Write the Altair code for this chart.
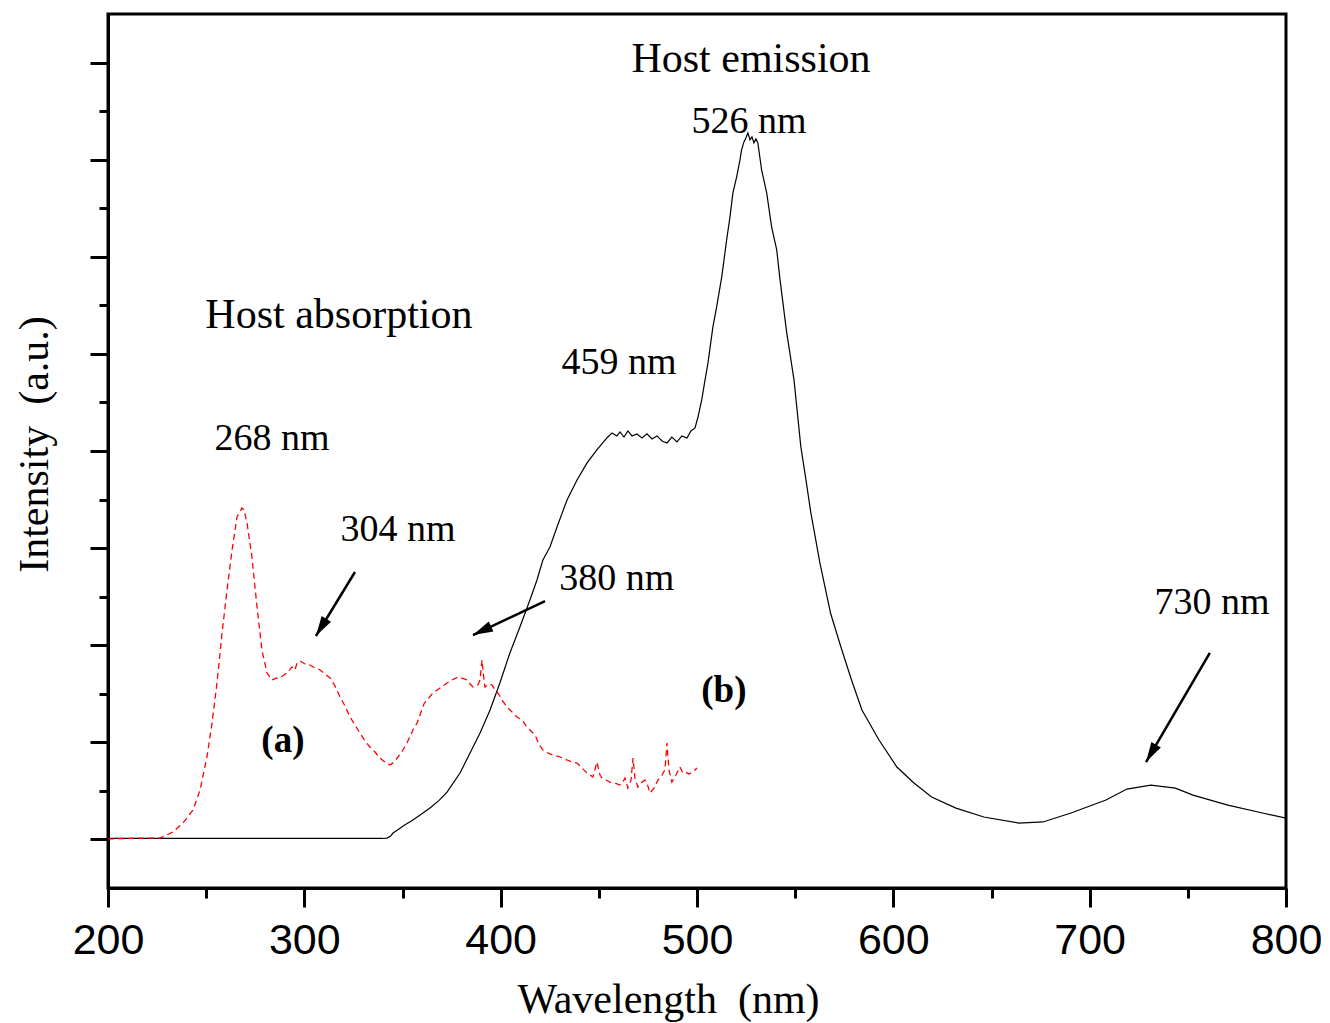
import math
import altair as alt
import pandas as pd

# ---------------- data ----------------
emis_wl = [200, 250, 300, 340,
           342.1, 343.8, 345.2, 348.0, 350.5, 355.3, 359.5, 364.0, 368.5, 372.7,
           379.3, 384.4, 389.5, 394.6, 399.6,
           404.7, 409.8, 414.9, 418.5, 421.5, 425.1, 428.7, 433.8, 438.9, 444.0,
           449.0, 454.1, 456.7, 459.2, 460.8, 462.8, 464.8, 466.9, 469.4, 472.0,
           474.5, 477.1, 479.6, 482.2, 484.7, 487.2, 489.8, 492.3, 494.9, 496.9,
           499.0, 500.5, 502.4, 504.1, 505.6, 508.1, 510.0, 512.6, 515.1, 516.8,
           518.3, 520.2, 521.9, 522.7, 523.9, 524.9, 525.9, 527.0, 528.0, 529.0,
           530.0, 531.0, 532.9, 535.5, 538.0, 540.6, 542.3, 545.7, 547.3, 549.4,
           552.9, 555.5, 558.0, 562.6, 568.0, 573.3, 578.7, 584.0, 592.7, 601.8,
           610.5, 619.5, 631.9, 646.1, 664.0, 676.2, 690.5, 708.3, 719.0, 731.2,
           743.7, 752.6, 770.4, 788.0, 800]
emis_int = [1, 1, 1, 1,
            1.4, 3.2, 6.6, 10.5, 14.0, 20, 26.0, 32.3, 40.0, 48.8,
            68.4, 89, 109.6, 133.3, 161.1,
            192, 218.8, 246.6, 267.2, 287.8, 301.2, 321.8, 349.6, 370.2, 387.7,
            401.1, 413.4, 418.6, 415.5, 419.6, 414.4, 420.7, 415.5, 417.6, 413.4,
            417.6, 412.4, 415.5, 410.3, 408.3, 414.4, 409.3, 415.5, 413.4, 420.7,
            423.7, 435, 452.6, 473.2, 490.7, 527.8, 548.4, 579.3, 617.4, 641.1,
            665.8, 682.3, 699.8, 710.1, 718.3, 722.4, 727.6, 720.4, 723.5, 717.3,
            721.4, 717.3, 689.5, 665.8, 630.8, 607.1, 576.2, 521.6, 501, 473.2,
            404.2, 370.2, 336.2, 284.7, 233.2, 198.2, 164.2, 133.3, 102.4, 74.6,
            58.1, 43.7, 32.3, 23.1, 16.9, 18, 27.2, 40.6, 51.9, 56,
            52.9, 45.7, 35.4, 27.2, 22]

abs_wl = [200, 216.3, 226.5, 233.1, 238.2, 243.3, 246.9, 250.4, 253.0, 255.5,
          258.1, 260.6, 263.2, 265.7, 267.2, 268.2, 269.3, 270.8, 273.3, 275.9,
          278.4, 281.0, 283.5, 285.6, 287.6, 289.6, 291.7, 293.7, 295.2, 296.3,
          297.8, 300.3, 302.9, 305.4, 308.0, 310.5, 313.1, 315.6, 318.2, 320.7,
          323.3, 325.8, 328.3, 330.9, 333.4, 336.0, 338.5, 341.1, 343.6, 345.7,
          347.7, 350.2, 352.3, 355.3, 357.4, 361.0, 365.5, 369.1, 372.7, 375.2,
          378.3, 380.3, 382.8, 384.4, 385.9, 388.4, 389.5, 390.5, 391.5, 392.0,
          394.0, 395.6, 397.1, 398.6, 400.7, 403.2, 405.8, 408.3, 410.9, 413.4,
          415.4, 417.5, 419.5, 421.5, 424.1, 426.6, 430.2, 433.8, 436.3, 438.9,
          441.4, 444.0, 447.0, 449.0, 450.6, 451.6, 453.6, 455.7, 458.2, 460.8,
          462.3, 463.3, 464.8, 466.4, 467.4, 468.4, 469.9, 471.5, 473.5, 475.0,
          476.0, 478.1, 480.1, 482.2, 483.7, 484.7, 485.7, 487.2, 489.3, 491.3,
          492.8, 493.9, 495.9, 497.9, 500.0]
abs_int = [0.5, 1.4, 1.4, 7.6, 16.9, 30.3, 50.9, 84.9, 119.9, 161.1,
           212.6, 256.9, 298.1, 332.1, 337.2, 341.4, 339.3, 325.9, 290.9, 239.4,
           195.1, 171.4, 164.2, 166.2, 166.2, 169.3, 172.4, 177.6, 174.5, 181.7,
           183.8, 180.7, 179.6, 176.6, 174.5, 170.4, 166.2, 158, 146.7, 137.4,
           126.1, 117.8, 109.6, 101.4, 95.2, 90, 83.8, 79.7, 76.6, 79.7,
           84.9, 92.1, 99.3, 112.7, 119.9, 140, 150.8, 155.9, 161.1, 164.2,
           167.3, 166.2, 164.2, 160.1, 157, 159.1, 164.2, 184.8, 164.2, 157,
           160.1, 159.1, 154, 150.8, 143.6, 136.4, 131.2, 126.1, 123, 115.8,
           111.7, 107.5, 98.3, 92.1, 89, 86.9, 84.9, 81.8, 79.7, 78.7,
           73.6, 68.4, 64.3, 79.7, 66.3, 63.2, 61.2, 59.1, 58.1, 56,
           59.1, 63.2, 52.9, 61.2, 83.8, 63.2, 53.9, 58.1, 61.2, 55,
           47.8, 52.9, 61.2, 66.3, 72, 99.3, 72, 59.1, 66.3, 74.6,
           68.4, 69.5, 67.3, 69.5, 73.6]

# annotation texts (x in nm, y in intensity units)
host_text = ["Host emission", "Host absorption"]
host_x = [527.5, 317.6]
host_y = [790.4, 526.7]

peak_text = ["526 nm", "459 nm", "268 nm", "304 nm", "380 nm", "730 nm"]
peak_x = [526.5, 460.3, 283.5, 347.7, 459.2, 762.3]
peak_y = [727.6, 479.4, 401.1, 307.4, 256.9, 232.2]

panel_text = ["(a)", "(b)"]
panel_x = [289.1, 513.7]
panel_y = [90, 141.5]

# arrows: tail -> head
arrow_tail_x = [325.8, 422.6, 761.2]
arrow_tail_y = [275.4, 245.5, 192.0]
arrow_head_x = [305.9, 385.9, 728.7]
arrow_head_y = [209.5, 210.5, 79.7]

x_ticks = [200, 250, 300, 350, 400, 450, 500, 550, 600, 650, 700, 750, 800]
y_ticks = [0, 50, 100, 150, 200, 250, 300, 350, 400, 450, 500, 550, 600, 650, 700, 750, 800]

# ---------------- chart ----------------
X_DOMAIN = [200, 800]
Y_DOMAIN = [-50, 850]
W, H = 1178, 874

emis = pd.DataFrame({"wl": emis_wl, "inten": emis_int})
absn = pd.DataFrame({"wl": abs_wl, "inten": abs_int})
hosts = pd.DataFrame({"wl": host_x, "inten": host_y, "label": host_text})
peaks = pd.DataFrame({"wl": peak_x, "inten": peak_y, "label": peak_text})
panels = pd.DataFrame({"wl": panel_x, "inten": panel_y, "label": panel_text})
arrows = pd.DataFrame({"wl": arrow_tail_x, "inten": arrow_tail_y,
                       "x1": arrow_head_x, "y1": arrow_head_y})
px_per_x = W / (X_DOMAIN[1] - X_DOMAIN[0])
px_per_y = H / (Y_DOMAIN[1] - Y_DOMAIN[0])
arrows["angle"] = [
    math.degrees(math.atan2((hx - tx) * px_per_x, (hy - ty) * px_per_y)) % 360
    for tx, ty, hx, hy in zip(arrow_tail_x, arrow_tail_y, arrow_head_x, arrow_head_y)
]
heads = pd.DataFrame({"wl": arrow_head_x, "inten": arrow_head_y, "angle": arrows["angle"]})

xs = alt.Scale(domain=X_DOMAIN, nice=False, zero=False)
ys = alt.Scale(domain=Y_DOMAIN, nice=False, zero=False)

x_axis = alt.Axis(
    values=x_ticks,
    labelExpr="datum.value % 100 === 0 ? datum.label : ''",
    tickSize={"condition": {"test": "datum.value % 100 === 0", "value": 19}, "value": 10},
    labelFont="Liberation Sans", labelFontSize=43, labelColor="black",
    labelBaseline="alphabetic", labelPadding=46, labelFlush=False,
    labelOverlap=False, labelBound=False,
    title="Wavelength \u00a0(nm)", titleFont="Liberation Serif", titleFontSize=42,
    titleFontWeight="normal", titleColor="black", titleX=560, titleY=124,
    titleBaseline="alphabetic", titleAlign="center",
)
y_axis = alt.Axis(
    values=y_ticks, labels=False,
    tickSize={"condition": {"test": "datum.value % 100 === 0", "value": 18}, "value": 9},
    title="Intensity \u00a0(a.u.)", titleFont="Liberation Serif", titleFontSize=42,
    titleFontWeight="normal", titleColor="black", titleAngle=270,
    titleX=-61, titleY=430, titleBaseline="alphabetic", titleAlign="center",
)

X = alt.X("wl:Q", scale=xs, axis=x_axis)
Y = alt.Y("inten:Q", scale=ys, axis=y_axis)

emis_line = alt.Chart(emis).mark_line(color="black", strokeWidth=1.2).encode(x=X, y=Y)
abs_line = alt.Chart(absn).mark_line(
    color="#ff0000", strokeWidth=1.3, strokeDash=[6, 4]).encode(x=X, y=Y)
arrow_lines = alt.Chart(arrows).mark_rule(color="black", strokeWidth=2.5).encode(
    x=X, y=Y, x2="x1:Q", y2="y1:Q",
)
arrow_heads = alt.Chart(heads).mark_point(
    shape="M0,0L-0.55,2L0.55,2Z", filled=True, color="black", opacity=1, size=400,
).encode(x=X, y=Y, angle=alt.Angle("angle:Q", scale=None))


def text_layer(df, size, weight="normal"):
    return alt.Chart(df).mark_text(
        font="Liberation Serif", fontSize=size, fontWeight=weight, color="black",
        align="center", baseline="alphabetic",
    ).encode(x=X, y=Y, text="label:N")


chart = alt.layer(
    emis_line, abs_line, arrow_lines, arrow_heads,
    text_layer(hosts, 42), text_layer(peaks, 38), text_layer(panels, 37, "bold"),
).properties(
    width=W, height=H,
    padding={"left": 108, "top": 14, "right": 44, "bottom": 135},
    autosize=alt.AutoSizeParams(type="none"),
    background="white",
).configure_view(
    stroke="black", strokeWidth=3,
).configure_axis(
    grid=False, domainColor="black", domainWidth=3, tickColor="black", tickWidth=3,
)

chart.save("out.html", embed_options={"renderer": "svg", "actions": False})
